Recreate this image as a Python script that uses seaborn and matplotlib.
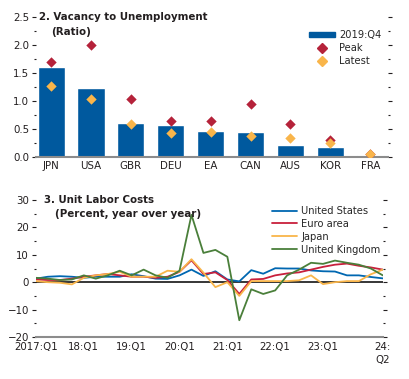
"""
Vacancy to unemployment ratio and unit labor costs.
"""
import numpy as np
import pandas as pd
import seaborn as sns
import matplotlib
matplotlib.use("Agg")
import matplotlib.pyplot as plt
from matplotlib import font_manager as fm
from matplotlib.ticker import MultipleLocator
from matplotlib.lines import Line2D
from matplotlib.patches import Patch

# painel 2: vagas / desemprego
paises = ["JPN", "USA", "GBR", "DEU", "EA", "CAN", "AUS", "KOR", "FRA"]
q4_2019 = [1.60, 1.22, 0.60, 0.56, 0.46, 0.44, 0.21, 0.17, 0.03]
pico = [1.69, 2.00, 1.04, 0.64, 0.64, 0.95, 0.59, 0.30, 0.06]
ultimo = [1.26, 1.04, 0.58, 0.43, 0.44, 0.38, 0.33, 0.24, 0.05]

# painel 3: custo unitario do trabalho, 2017:Q1 .. 2024:Q2
eua = [1.3, 2.0, 2.2, 2.0, 1.6, 2.0, 2.0, 2.0, 2.9, 2.2, 1.3, 1.2, 2.5, 4.6, 2.3,
       4.0, 1.0, 0.3, 4.4, 3.1, 5.1, 5.0, 5.0, 4.3, 4.0, 3.9, 2.5, 2.5, 1.9, 1.4]
euro = [1.0, 0.8, 0.8, 1.3, 2.0, 2.5, 3.0, 2.5, 2.0, 2.0, 1.6, 2.0, 3.8, 8.0, 3.0,
        3.6, 0.8, -4.3, 1.0, 1.2, 2.5, 3.2, 3.6, 4.6, 5.6, 6.4, 6.8, 6.0, 5.4, 4.6]
japao = [0.4, 0.0, -0.2, -0.8, 1.6, 2.5, 3.0, 3.8, 2.0, 2.0, 2.0, 4.2, 3.8, 8.4, 3.5,
         -1.8, 0.0, -5.0, 0.4, 0.4, 0.4, 0.4, 0.7, 2.5, -0.7, 0.0, 0.4, 0.4, 2.9, 4.6]
reino_unido = [1.6, 1.3, 0.8, 1.0, 2.5, 1.3, 2.5, 4.2, 2.5, 4.6, 2.5, 1.6, 4.2, 24.6, 10.7,
               11.8, 9.3, -13.9, -2.6, -4.3, -3.0, 2.5, 4.6, 7.1, 6.7, 7.9, 7.1, 6.4, 5.0, 2.5]
tick_pos = [0, 4, 8, 12, 16, 20, 24, 29]
tick_lab = ["2017:Q1", "18:Q1", "19:Q1", "20:Q1", "21:Q1", "22:Q1", "23:Q1", "24:\nQ2"]

sns.set_style("white")

# procura uma fonte estreita parecida com a original
nomes = {f.name for f in fm.fontManager.ttflist}
if "Liberation Sans Narrow" in nomes:
    plt.rcParams["font.family"] = ["Liberation Sans Narrow", "DejaVu Sans"]
    tam = 9
else:
    plt.rcParams["font.family"] = ["DejaVu Sans"]
    plt.rcParams["font.stretch"] = "condensed"
    tam = 7.6
plt.rcParams["font.size"] = tam
texto = "#231f20"
cinza = "#8c8c8c"

fig = plt.figure(figsize=(4.09, 3.79), dpi=100)
ax1 = fig.add_axes([0.088, 0.586, 0.861, 0.370])
ax2 = fig.add_axes([0.088, 0.111, 0.848, 0.361])

# --- painel de cima
sns.barplot(x=paises, y=q4_2019, color="#00599e", width=0.68, saturation=1, ax=ax1)
sns.scatterplot(x=paises, y=pico, marker="D", s=28, color="#b5223a", linewidth=0, ax=ax1, zorder=3)
sns.scatterplot(x=paises, y=ultimo, marker="D", s=28, color="#f9b54a", linewidth=0, ax=ax1, zorder=4)
ax1.set_xlim(-0.38, 8.45)
ax1.set_ylim(0, 2.5)
ax1.yaxis.set_major_locator(MultipleLocator(0.5))
ax1.yaxis.set_minor_locator(MultipleLocator(0.25))
ax1.yaxis.set_major_formatter(plt.FormatStrFormatter("%.1f"))
ax1.text(0.008, 2.5, "2. Vacancy to Unemployment", transform=ax1.get_yaxis_transform(),
         fontweight="bold", fontsize=tam + 0.6, va="center", ha="left", color=texto)
ax1.text(0.043, 2.22, "(Ratio)", transform=ax1.get_yaxis_transform(),
         fontweight="bold", fontsize=tam + 0.6, va="center", ha="left", color=texto)
handles1 = [Patch(color="#00599e"),
            Line2D([], [], marker="D", ls="", color="#b5223a", markersize=5),
            Line2D([], [], marker="D", ls="", color="#f9b54a", markersize=5)]
ax1.legend(handles1, ["2019:Q4", "Peak", "Latest"], loc="upper left",
           bbox_to_anchor=(304 / 409, 1 - 25 / 379), bbox_transform=fig.transFigure,
           frameon=False, handlelength=2.3, handleheight=0.35, handletextpad=0.4,
           labelspacing=0.25, borderpad=0, fontsize=tam + 0.3)

# --- painel de baixo
n = len(eua)
df = pd.DataFrame({
    "q": list(range(n)) * 4,
    "valor": eua + euro + japao + reino_unido,
    "serie": ["United States"] * n + ["Euro area"] * n + ["Japan"] * n + ["United Kingdom"] * n,
})
cores = {"United States": "#0067b1", "Euro area": "#c8203c",
         "Japan": "#f9b54a", "United Kingdom": "#4a7f3a"}
ax2.axhline(0, color="black", lw=1.1, zorder=1)
sns.lineplot(data=df, x="q", y="valor", hue="serie", palette=cores, lw=1.3, ax=ax2, zorder=2)
ax2.set_xlim(0, 29)
ax2.set_ylim(-20, 30)
ax2.yaxis.set_major_locator(MultipleLocator(10))
ax2.yaxis.set_minor_locator(MultipleLocator(5))
ax2.set_xticks(tick_pos)
ax2.set_xticklabels(tick_lab, va="top", linespacing=1.3)
ax2.text(0.022, 30, "3. Unit Labor Costs", transform=ax2.get_yaxis_transform(),
         fontweight="bold", fontsize=tam + 0.6, va="center", ha="left", color=texto)
ax2.text(0.055, 25, "(Percent, year over year)", transform=ax2.get_yaxis_transform(),
         fontweight="bold", fontsize=tam + 0.6, va="center", ha="left", color=texto)
ax2.legend(loc="upper left", bbox_to_anchor=(267 / 409, 1 - 201 / 379),
           bbox_transform=fig.transFigure, frameon=False, handlelength=2.2,
           handletextpad=0.4, labelspacing=0.25, borderpad=0, fontsize=tam + 0.3)

for ax in (ax1, ax2):
    ax.set_xlabel("")
    ax.set_ylabel("")
    for lado in ("left", "right", "top"):
        ax.spines[lado].set_visible(False)
    ax.spines["bottom"].set_color(cinza)
    ax.spines["bottom"].set_linewidth(1.5)
    ax.tick_params(axis="y", which="both", left=True, right=True, direction="out",
                   color=texto, labelcolor=texto, labelsize=tam + 0.6, pad=2)
    ax.tick_params(axis="y", which="major", length=3, width=0.8)
    ax.tick_params(axis="y", which="minor", length=1.5, width=0.8)
    ax.tick_params(axis="x", labelcolor=texto, labelsize=tam + 0.6)

ax1.tick_params(axis="x", length=0, pad=3)
ax2.tick_params(axis="x", direction="in", length=4, width=1.2, color=cinza, pad=4)

fig.savefig("out.png", dpi=100)
